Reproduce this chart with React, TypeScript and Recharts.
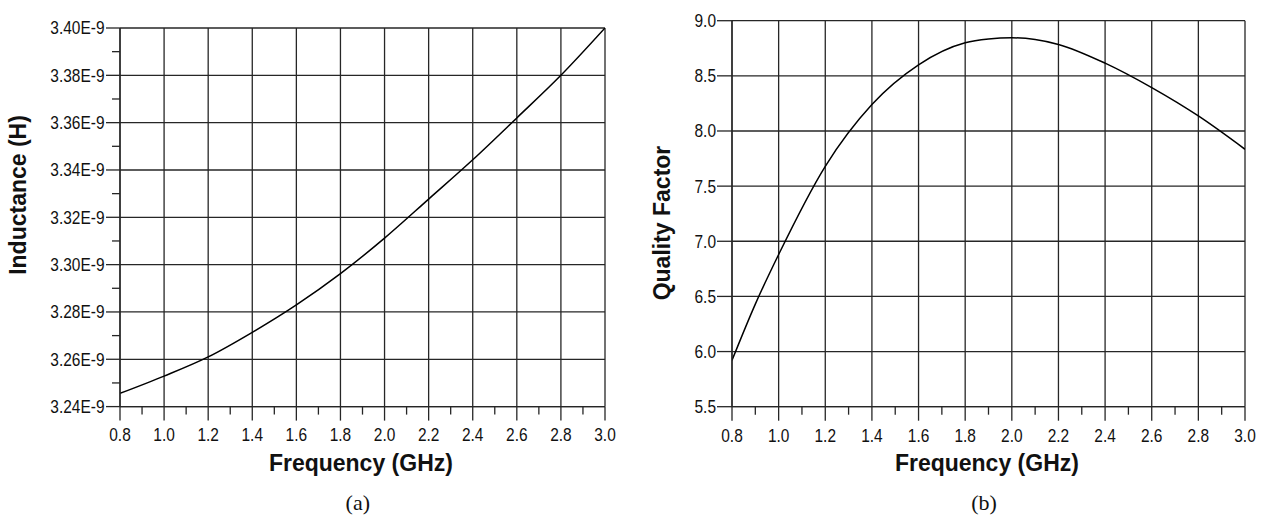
import { LineChart, Line, XAxis, YAxis, ReferenceLine } from "recharts";

// (a) inductance vs frequency
const freqs = [0.8, 1.0, 1.2, 1.4, 1.6, 1.8, 2.0, 2.2, 2.4, 2.6, 2.8, 3.0];
const inductance = [
  3.2456e-9, 3.2529e-9, 3.261e-9, 3.2714e-9, 3.283e-9, 3.2962e-9,
  3.3112e-9, 3.3277e-9, 3.3443e-9, 3.362e-9, 3.38e-9, 3.4e-9,
];

// (b) quality factor vs frequency
const qFreqs = [0.8, 0.9, 1.0, 1.2, 1.4, 1.6, 1.8, 1.9, 2.0, 2.1, 2.2, 2.4, 2.6, 2.8, 3.0];
const quality = [5.92, 6.43, 6.88, 7.68, 8.24, 8.6, 8.8, 8.834, 8.845, 8.83, 8.785, 8.615, 8.393, 8.136, 7.834];

// axis ticks
const freqTicks = [
  0.8, 0.9, 1.0, 1.1, 1.2, 1.3, 1.4, 1.5, 1.6, 1.7, 1.8, 1.9,
  2.0, 2.1, 2.2, 2.3, 2.4, 2.5, 2.6, 2.7, 2.8, 2.9, 3.0,
];
const inductanceTicks = [
  3.24e-9, 3.25e-9, 3.26e-9, 3.27e-9, 3.28e-9, 3.29e-9, 3.3e-9, 3.31e-9, 3.32e-9,
  3.33e-9, 3.34e-9, 3.35e-9, 3.36e-9, 3.37e-9, 3.38e-9, 3.39e-9, 3.4e-9,
];
const qualityTicks = [5.5, 6.0, 6.5, 7.0, 7.5, 8.0, 8.5, 9.0];

const isMajorFreq = (v: number) => Math.round(v * 10) % 2 === 0;
const isMajorInd = (v: number) => Math.round(v * 1e11) % 2 === 0;

const majorFreqs = freqTicks.filter(isMajorFreq);
const majorInductance = inductanceTicks.filter(isMajorInd);

const inductanceData = freqs.map((f, i) => ({ f, L: inductance[i] }));
const qualityData = qFreqs.map((f, i) => ({ f, Q: quality[i] }));

const INK = "#111";
const GRID = "#262626";
const GRID_W = 1.3;
const TICK_FONT = "'Liberation Sans', Arial, sans-serif";
const TITLE_FONT = "'Liberation Sans', Arial, Helvetica, sans-serif";
const SQUEEZE = 0.86; // tick labels in the original are a condensed face

// condensed tick text, anchored at (x, y)
function TickText({ x, y, anchor, children }: any) {
  return (
    <text
      transform={`translate(${x}, ${y}) scale(${SQUEEZE}, 1)`}
      textAnchor={anchor}
      fontFamily={TICK_FONT}
      fontSize={18}
      fill={INK}
    >
      {children}
    </text>
  );
}

function FreqTick({ x, y, payload }: any) {
  const v = payload.value as number;
  const major = isMajorFreq(v);
  return (
    <g>
      <line x1={x} x2={x} y1={y} y2={y + (major ? 14 : 8)} stroke={GRID} strokeWidth={GRID_W} />
      {major && (
        <TickText x={x} y={y + 34.8} anchor="middle">
          {v.toFixed(1)}
        </TickText>
      )}
    </g>
  );
}

function InductanceTick({ x, y, payload }: any) {
  const v = payload.value as number;
  const major = isMajorInd(v);
  return (
    <g>
      <line x1={x - (major ? 14 : 8)} x2={x} y1={y} y2={y} stroke={GRID} strokeWidth={GRID_W} />
      {major && (
        <TickText x={x - 15.5} y={y + 6.4} anchor="end">
          {`${(v * 1e9).toFixed(2)}E-9`}
        </TickText>
      )}
    </g>
  );
}

function QualityTick({ x, y, payload }: any) {
  const v = payload.value as number;
  return (
    <g>
      <line x1={x - 15} x2={x} y1={y} y2={y} stroke={GRID} strokeWidth={GRID_W} />
      <TickText x={x - 16} y={y + 6.4} anchor="end">
        {v.toFixed(1)}
      </TickText>
    </g>
  );
}

const xTitle = (shift: number) => (props: any) => {
  const vb = props.viewBox;
  return (
    <text x={vb.x + vb.width / 2 + shift} y={470.5} textAnchor="middle" fontFamily={TITLE_FONT} fontWeight="bold" fontSize={23} fill={INK}>
      Frequency (GHz)
    </text>
  );
};

const yTitle = (text: string, bx: number, cy: number) => () => (
  <text transform={`translate(${bx}, ${cy}) rotate(-90)`} textAnchor="middle" fontFamily={TITLE_FONT} fontWeight="bold" fontSize={23} fill={INK}>
    {text}
  </text>
);

export default function App() {
  return (
    <div style={{ position: "fixed", left: 0, top: 0, width: 1267, height: 516, background: "#fff" }}>
      <div style={{ position: "absolute", left: 0, top: 0 }}>
        <LineChart width={640} height={516} data={inductanceData} margin={{ top: 28, right: 35, bottom: 49.4, left: 0 }}>
          <XAxis
            dataKey="f"
            type="number"
            domain={[0.8, 3.0]}
            ticks={freqTicks}
            interval={0}
            tick={FreqTick}
            tickLine={false}
            tickSize={0}
            tickMargin={0}
            height={60}
            allowDataOverflow
            axisLine={{ stroke: GRID, strokeWidth: GRID_W }}
            label={{ content: xTitle(-1.6) }}
          />
          <YAxis
            type="number"
            domain={[3.24e-9, 3.4e-9]}
            ticks={inductanceTicks}
            interval={0}
            tick={InductanceTick}
            tickLine={false}
            tickSize={0}
            tickMargin={0}
            width={120}
            allowDataOverflow
            axisLine={{ stroke: GRID, strokeWidth: GRID_W }}
            label={{ content: yTitle("Inductance (H)", 26, 195) }}
          />
          {majorFreqs.map((v) => (
            <ReferenceLine key={`x${v}`} x={v} stroke={GRID} strokeWidth={GRID_W} />
          ))}
          {majorInductance.map((v) => (
            <ReferenceLine key={`y${v}`} y={v} stroke={GRID} strokeWidth={GRID_W} />
          ))}
          <Line type="monotone" dataKey="L" stroke="#000" strokeWidth={1.5} dot={false} isAnimationActive={false} />
        </LineChart>
      </div>
      <div style={{ position: "absolute", left: 640, top: 0 }}>
        <LineChart width={627} height={516} data={qualityData} margin={{ top: 20.7, right: 22, bottom: 49.3, left: 0 }}>
          <XAxis
            dataKey="f"
            type="number"
            domain={[0.8, 3.0]}
            ticks={freqTicks}
            interval={0}
            tick={FreqTick}
            tickLine={false}
            tickSize={0}
            tickMargin={0}
            height={60}
            allowDataOverflow
            axisLine={{ stroke: GRID, strokeWidth: GRID_W }}
            label={{ content: xTitle(-1.6) }}
          />
          <YAxis
            type="number"
            domain={[5.5, 9.0]}
            ticks={qualityTicks}
            interval={0}
            tick={QualityTick}
            tickLine={false}
            tickSize={0}
            tickMargin={0}
            width={92}
            allowDataOverflow
            axisLine={{ stroke: GRID, strokeWidth: GRID_W }}
            label={{ content: yTitle("Quality Factor", 30, 223) }}
          />
          {majorFreqs.map((v) => (
            <ReferenceLine key={`x${v}`} x={v} stroke={GRID} strokeWidth={GRID_W} />
          ))}
          {qualityTicks.map((v) => (
            <ReferenceLine key={`y${v}`} y={v} stroke={GRID} strokeWidth={GRID_W} />
          ))}
          <Line type="monotone" dataKey="Q" stroke="#000" strokeWidth={1.5} dot={false} isAnimationActive={false} />
        </LineChart>
      </div>
      <svg width={1267} height={516} style={{ position: "absolute", left: 0, top: 0, pointerEvents: "none" }}>
        <text x={357.8} y={509.5} textAnchor="middle" fontFamily="'Liberation Serif', 'Times New Roman', serif" fontSize={22} fill={INK}>
          (a)
        </text>
        <text x={984} y={509.5} textAnchor="middle" fontFamily="'Liberation Serif', 'Times New Roman', serif" fontSize={22} fill={INK}>
          (b)
        </text>
      </svg>
    </div>
  );
}
